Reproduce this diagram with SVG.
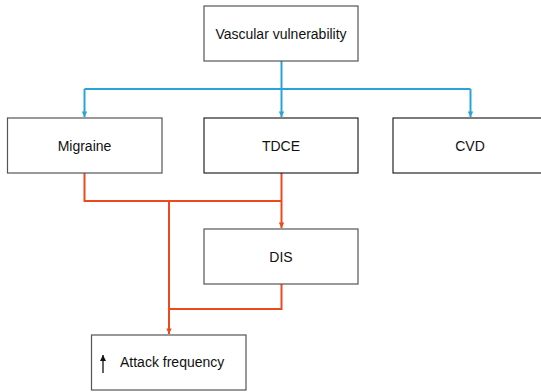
<svg xmlns="http://www.w3.org/2000/svg" width="541" height="392" viewBox="0 0 541 392">
<defs>
<style>
.box{fill:#fff;stroke:#555;stroke-width:1.2}
.dark{stroke:#111;stroke-width:1.1}
.lbl{font-family:"Liberation Sans",Arial,sans-serif;font-size:14px;fill:#111;text-anchor:middle;dominant-baseline:central}
.blue{fill:none;stroke:#2aa4d8;stroke-width:2}
.red{fill:none;stroke:#ec4a1c;stroke-width:2}
</style>
<marker id="ab" viewBox="0 0 10 10" refX="10" refY="5" markerWidth="6" markerHeight="5.5" orient="auto" markerUnits="userSpaceOnUse"><path d="M0,0L10,5L0,10z" fill="#2aa4d8"/></marker>
<marker id="ar" viewBox="0 0 10 10" refX="10" refY="5" markerWidth="6" markerHeight="5.5" orient="auto" markerUnits="userSpaceOnUse"><path d="M0,0L10,5L0,10z" fill="#ec4a1c"/></marker>
<marker id="ak" viewBox="0 0 10 10" refX="10" refY="5" markerWidth="6" markerHeight="6" orient="auto" markerUnits="userSpaceOnUse"><path d="M0,0L10,5L0,10z" fill="#111"/></marker>
</defs>
<rect width="541" height="392" fill="#fff"/>
<g id="connectors">
<path class="blue" d="M281.5,61V89M84.5,89H470.5"/>
<path class="blue" d="M84.5,89V117" marker-end="url(#ab)"/>
<path class="blue" d="M281.5,89V117" marker-end="url(#ab)"/>
<path class="blue" d="M470.5,89V117" marker-end="url(#ab)"/>
<path class="red" d="M84.5,173V201H281.5"/>
<path class="red" d="M281.5,173V228" marker-end="url(#ar)"/>
<path class="red" d="M281.5,284V309H169"/>
<path class="red" d="M169,201V334" marker-end="url(#ar)"/>
</g>
<g id="vascular"><rect class="box" x="204" y="6" width="154" height="55"/><text class="lbl" x="281" y="34">Vascular vulnerability</text></g>
<g id="migraine"><rect class="box" x="7.5" y="118" width="154.5" height="55"/><text class="lbl" x="84.5" y="146">Migraine</text></g>
<g id="tdce"><rect class="box dark" x="204" y="118" width="154" height="55"/><text class="lbl" x="281" y="146">TDCE</text></g>
<g id="cvd"><rect class="box dark" x="393" y="118" width="160" height="55"/><text class="lbl" x="470" y="146">CVD</text></g>
<g id="dis"><rect class="box" x="204" y="229" width="154" height="55"/><text class="lbl" x="281" y="257">DIS</text></g>
<g id="attack"><rect class="box" x="91.5" y="335" width="154.5" height="55"/>
<line x1="103" y1="373" x2="103" y2="355" stroke="#111" stroke-width="1.3" marker-end="url(#ak)"/>
<text class="lbl" x="120" y="362" style="text-anchor:start">Attack frequency</text></g>
</svg>
